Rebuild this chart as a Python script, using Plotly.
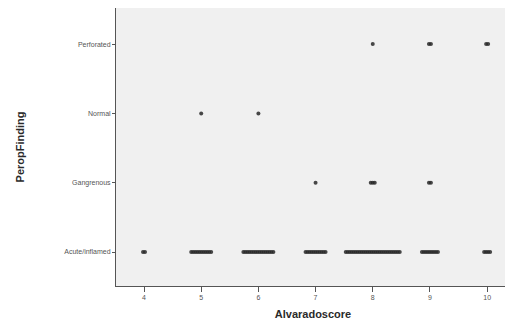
import plotly.graph_objects as go

categories = ["Acute/inflamed", "Gangrenous", "Normal", "Perforated"]
cat_labels = ["Acute/inflamed", "Gangrenous", "Normal", "Perforated"]
scores = [4, 5, 6, 7, 8, 9, 10]
tick_labels = ["4", "5", "6", "7", "8", "9", "10"]

# counts of cases per score for each finding
acute_counts = [2, 11, 16, 11, 28, 9, 4]
gangrenous_counts = [0, 0, 0, 1, 3, 2, 0]
normal_counts = [0, 1, 1, 0, 0, 0, 0]
perforated_counts = [0, 0, 0, 0, 1, 2, 2]

counts_by_cat = [acute_counts, gangrenous_counts, normal_counts, perforated_counts]

# dot spreading (stacked sideways around the integer score)
STEP = 0.035
xs, ys = [], []
for ci, counts in enumerate(counts_by_cat):
    for s, n in zip(scores, counts):
        for i in range(n):
            xs.append(s + (i - (n - 1) / 2) * STEP)
            ys.append(ci)

fig = go.Figure()
fig.add_trace(go.Scatter(
    x=xs, y=ys, mode="markers",
    marker=dict(size=4, color="rgba(40,40,40,0.85)", line=dict(width=0)),
    hoverinfo="skip", showlegend=False,
))

axis_font = dict(family="Liberation Sans, Arial, sans-serif", size=7, color="#555555")
title_font = dict(family="Liberation Sans, Arial, sans-serif", size=11, color="#2a2a2a")

fig.update_layout(
    width=505, height=314,
    margin=dict(l=108, r=3, t=0, b=36),
    paper_bgcolor="white",
    plot_bgcolor="#f0f0f0",
    xaxis=dict(
        range=[3.51, 10.4],
        tickvals=scores, ticktext=tick_labels,
        ticks="outside", ticklen=5, tickcolor="#555555",
        showgrid=False, zeroline=False,
        showline=True, linecolor="#555555", linewidth=1, mirror=True,
        tickfont=axis_font,
        title=dict(text="<b>Alvaradoscore</b>", font=title_font, standoff=9),
    ),
    yaxis=dict(
        range=[-0.49, 3.52],
        tickvals=list(range(len(categories))), ticktext=cat_labels,
        ticks="outside", ticklen=3, tickcolor="#555555",
        showgrid=False, zeroline=False,
        showline=True, linecolor="#555555", linewidth=1, mirror=True,
        tickfont=axis_font,
        title=dict(text="<b>PeropFinding</b>", font=title_font, standoff=37),
    ),
)

fig.write_html("out.html")
